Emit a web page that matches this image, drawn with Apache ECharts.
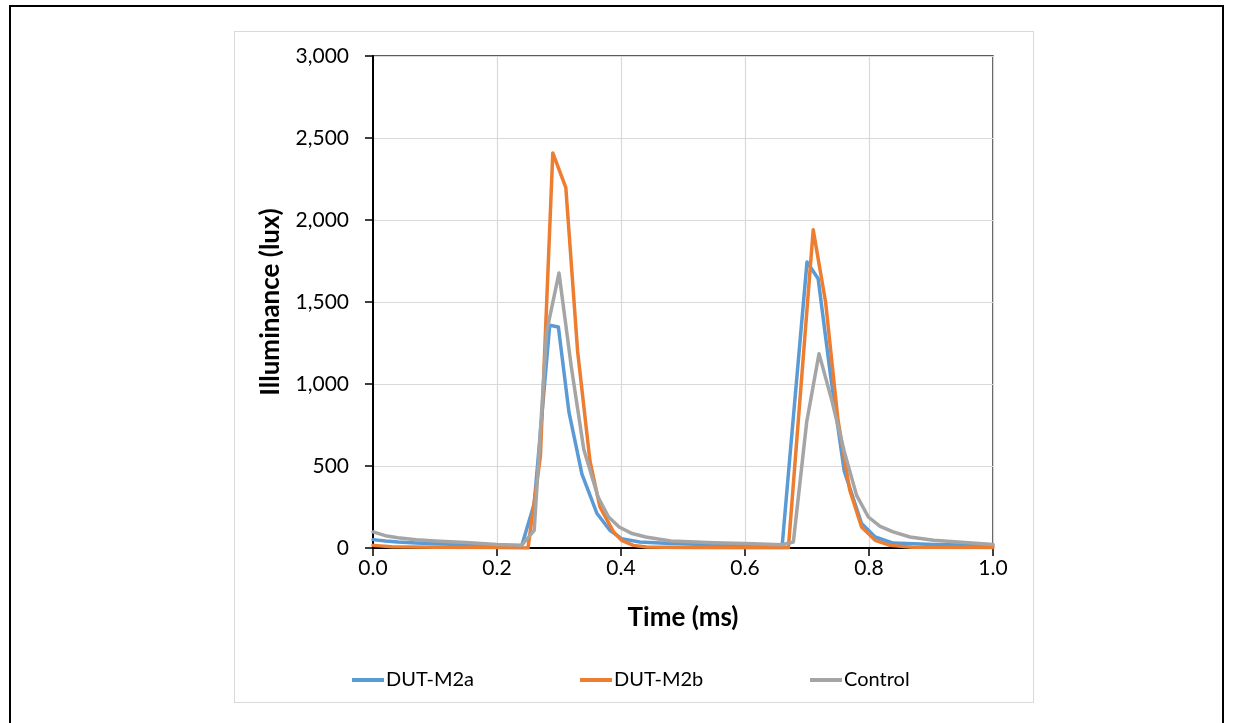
<!DOCTYPE html>
<html>
<head>
<meta charset="utf-8">
<script src="https://cdn.jsdelivr.net/npm/echarts@6/dist/echarts.min.js"></script>
<style>
html,body{margin:0;padding:0;background:#fff;}
#wrap{position:relative;width:1233px;height:723px;overflow:hidden;background:#fff;}
#outer{position:absolute;left:9px;top:5px;width:1211px;height:760px;border:2px solid #000;}
#frame{position:absolute;left:234px;top:31px;width:798px;height:670px;border:1px solid #D9D9D9;}
#chart{position:absolute;left:0;top:0;width:1233px;height:723px;}
</style>
</head>
<body>
<div id="wrap">
  <div id="outer"></div>
  <div id="frame"></div>
  <div id="chart"></div>
</div>
<script>
// Data (time in ms, illuminance in lux)
const seriesNames = ["DUT-M2a", "DUT-M2b", "Control"];
const xTicks = [0, 0.2, 0.4, 0.6, 0.8, 1.0];
const yTicks = [0, 500, 1000, 1500, 2000, 2500, 3000];

const m2aTime = [0, 0.02, 0.04, 0.07, 0.10, 0.15, 0.20, 0.24, 0.26, 0.285, 0.299, 0.316, 0.337, 0.361, 0.382, 0.401, 0.43, 0.48, 0.55, 0.60, 0.66, 0.67, 0.70, 0.718, 0.738, 0.76, 0.788, 0.81, 0.839, 0.904, 1.0];
const m2aLux  = [51, 42, 36, 30, 26, 20, 14, 16, 270, 1358, 1348, 830, 450, 212, 108, 57, 37, 27, 20, 17, 16, 453, 1744, 1642, 1050, 470, 149, 67, 30, 22, 16];

const m2bTime = [0, 0.03, 0.10, 0.20, 0.25, 0.27, 0.29, 0.311, 0.33, 0.35, 0.366, 0.388, 0.401, 0.42, 0.441, 0.50, 0.60, 0.67, 0.71, 0.73, 0.75, 0.769, 0.788, 0.81, 0.834, 0.87, 1.0];
const m2bLux  = [16, 8, 5, 3, 0, 560, 2409, 2198, 1200, 530, 250, 98, 47, 16, 6, 3, 2, 2, 1940, 1500, 780, 352, 128, 47, 16, 5, 3];

const ctrlTime = [0, 0.02, 0.04, 0.07, 0.10, 0.15, 0.20, 0.24, 0.26, 0.28, 0.30, 0.32, 0.34, 0.363, 0.38, 0.397, 0.418, 0.44, 0.48, 0.55, 0.60, 0.66, 0.678, 0.6995, 0.7194, 0.74, 0.76, 0.78, 0.799, 0.818, 0.839, 0.866, 0.904, 1.0];
const ctrlLux  = [98, 75, 62, 50, 43, 33, 22, 17, 108, 1317, 1677, 1100, 600, 311, 189, 128, 88, 67, 43, 32, 27, 20, 37, 768, 1185, 900, 590, 321, 189, 132, 98, 67, 47, 22];

const colors = ["#5B9BD5", "#ED7D31", "#A5A5A5"];
const legendLeft = [347, 575, 805];
const FONT = "Lato";

function pairs(xs, ys){ return xs.map((x,i)=>[x, ys[i]]); }

const chart = echarts.init(document.getElementById('chart'), null, {renderer:'canvas'});
const mkSeries = (name, xs, ys, c) => ({
  name, type:'line', data: pairs(xs, ys), showSymbol:false, symbol:'none',
  lineStyle:{color:c, width:3.5, join:'round', cap:'round'}, itemStyle:{color:c},
  animation:false, z:3
});
const mkLegend = (name, left) => ({
  left, top:665, itemWidth:32, itemHeight:4, icon:'rect',
  textStyle:{fontFamily:FONT, fontSize:20, color:'#000', padding:[0,0,0,-3]},
  data:[name]
});

chart.setOption({
  backgroundColor:'transparent',
  animation:false,
  textStyle:{fontFamily:FONT},
  grid:{left:373, top:56, width:620, height:492, show:true, borderColor:'#262626', borderWidth:1.5, backgroundColor:'transparent'},
  xAxis:{
    type:'value', min:xTicks[0], max:xTicks[xTicks.length-1], interval:0.2,
    name:'Time (ms)', nameLocation:'middle', nameGap:57,
    nameTextStyle:{fontFamily:FONT, fontSize:26, fontWeight:'bold', color:'#000'},
    axisLine:{show:true, onZero:false, lineStyle:{color:'#000', width:2}},
    axisTick:{show:true, inside:false, length:8, lineStyle:{color:'#000', width:1.5}},
    axisLabel:{fontFamily:FONT, fontSize:21, color:'#000', margin:10, formatter:v=>v.toFixed(1)},
    splitLine:{show:true, lineStyle:{color:'#D9D9D9', width:1.2}}
  },
  yAxis:{
    type:'value', min:yTicks[0], max:yTicks[yTicks.length-1], interval:500,
    name:'Illuminance (lux)', nameLocation:'middle', nameGap:89, nameRotate:90,
    nameTextStyle:{fontFamily:FONT, fontSize:26, fontWeight:'bold', color:'#000'},
    axisLine:{show:true, lineStyle:{color:'#000', width:2}},
    axisTick:{show:true, inside:false, length:8, lineStyle:{color:'#000', width:1.5}},
    axisLabel:{fontFamily:FONT, fontSize:21, color:'#000', margin:24, formatter:v=>v.toLocaleString('en-US')},
    splitLine:{show:true, lineStyle:{color:'#D9D9D9', width:1.2}}
  },
  legend: seriesNames.map((n,i)=>mkLegend(n, legendLeft[i])),
  series:[
    mkSeries(seriesNames[0], m2aTime, m2aLux, colors[0]),
    mkSeries(seriesNames[1], m2bTime, m2bLux, colors[1]),
    mkSeries(seriesNames[2], ctrlTime, ctrlLux, colors[2])
  ]
});
</script>
</body>
</html>
